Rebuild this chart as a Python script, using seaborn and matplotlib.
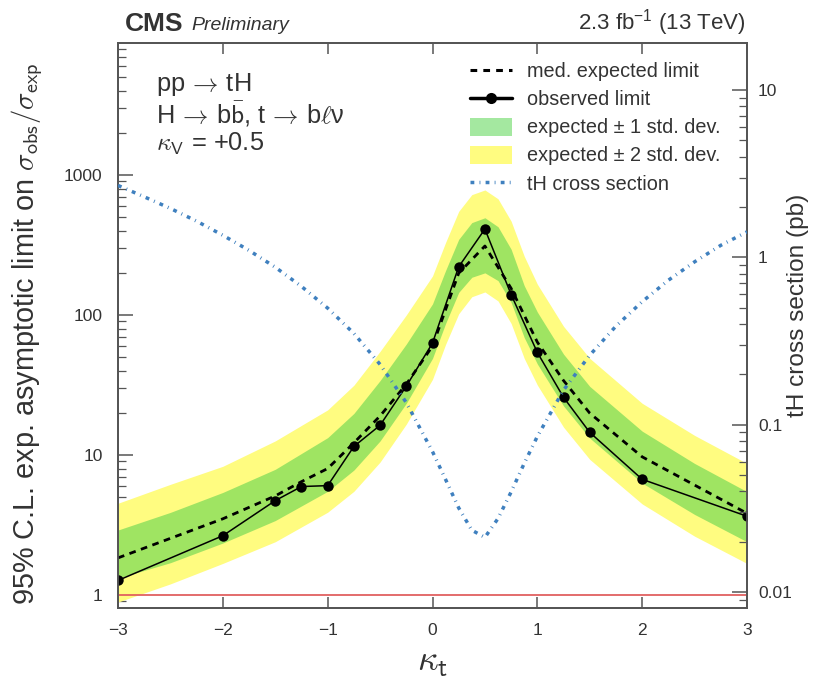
import numpy as np
import pandas as pd
import matplotlib
matplotlib.use("Agg")
import matplotlib.pyplot as plt
from matplotlib.lines import Line2D
from matplotlib.patches import Patch
from matplotlib.ticker import LogLocator, NullFormatter, FixedLocator, FixedFormatter
import seaborn as sns

# ---------------- data ----------------
kt = [-3, -2, -1.5, -1.25, -1, -0.75, -0.5, -0.25, 0, 0.25, 0.5, 0.75, 1, 1.25, 1.5, 2, 3]
observed = [1.27, 2.65, 4.72, 5.95, 6.04, 11.5, 16.3, 31, 63, 221, 411, 140, 54, 25.8, 14.5, 6.7, 3.65]
expected = [1.84, 3.5, 5.1, 6.45, 8.0, 12.2, 19.0, 32.0, 60.0, 199, 311, 155, 64, 34, 19.9, 9.7, 3.83]

kt_band = [-3, -2.5, -2, -1.5, -1, -0.75, -0.5, -0.25, 0, 0.125, 0.25, 0.375, 0.5,
           0.625, 0.75, 0.875, 1, 1.25, 1.5, 2, 2.5, 3]
band2_up = [4.52, 6.17, 8.3, 12.6, 21.0, 31.5, 55, 100, 190, 330, 550, 724, 782,
            676, 468, 263, 166, 83, 49, 23.4, 13.8, 8.7]
band1_up = [2.91, 3.89, 5.4, 7.9, 13.3, 19.8, 34, 62, 120, 208, 347, 457, 495,
            427, 295, 162, 105, 52.5, 30.9, 14.8, 8.7, 5.47]
band1_dn = [1.32, 1.70, 2.35, 3.4, 5.5, 7.8, 12.6, 23.4, 49, 87, 145, 186, 200,
            176, 123, 69, 44.7, 22.4, 13.2, 6.3, 3.76, 2.40]
band2_dn = [0.89, 1.20, 1.68, 2.4, 3.9, 5.5, 8.9, 16.6, 34.7, 61.7, 102, 135, 146,
            126, 87, 49, 31.6, 15.8, 9.3, 4.47, 2.63, 1.68]

kt_xsec = [-3, -2.75, -2.5, -2.25, -2, -1.75, -1.5, -1.25, -1, -0.75, -0.5, -0.25, 0,
           0.125, 0.25, 0.375, 0.5, 0.625, 0.75, 0.875, 1, 1.25, 1.5, 1.75, 2, 2.25,
           2.5, 2.75, 3]
xsec_pb = [2.69, 2.30, 1.96, 1.645, 1.355, 1.10, 0.873, 0.670, 0.497, 0.351, 0.229,
           0.1355, 0.069, 0.047, 0.0318, 0.0234, 0.0212, 0.0275, 0.0396, 0.0587,
           0.085, 0.161, 0.26, 0.388, 0.543, 0.73, 0.94, 1.18, 1.42]

x_ticks = [-3, -2, -1, 0, 1, 2, 3]
x_labels = ["\u22123", "\u22122", "\u22121", "0", "1", "2", "3"]
left_ticks = [1, 10, 100, 1000]
left_labels = ["1", "10", "100", "1000"]
right_ticks = [0.01, 0.1, 1, 10]
right_labels = ["0.01", "0.1", "1", "10"]

# ---------------- style ----------------
sns.set_style("ticks")
FONT = "Liberation Sans"
plt.rcParams["font.family"] = [FONT, "DejaVu Sans"]
plt.rcParams["mathtext.fontset"] = "custom"
plt.rcParams["mathtext.rm"] = FONT
plt.rcParams["mathtext.it"] = FONT + ":italic"
plt.rcParams["mathtext.bf"] = FONT + ":bold"
plt.rcParams["mathtext.sf"] = FONT
TXT = "#333333"
SPINE = "#555555"

GREEN = "#9fe462"
YELLOW = "#fffc80"
BLUE = "#3f80bf"
XS_STYLE = (0, (1.1, 1.5, 0.25, 1.5))

fig = plt.figure(figsize=(8.23, 6.89), dpi=100)
L, R, T, B = 118 / 823, 747 / 823, 1 - 43 / 689, 1 - 608 / 689
ax = fig.add_axes([L, B, R - L, T - B])

df_obs = pd.DataFrame({"kt": kt, "obs": observed, "exp": expected})
df_band = pd.DataFrame({"kt": kt_band, "u2": band2_up, "u1": band1_up,
                        "d1": band1_dn, "d2": band2_dn})
df_x = pd.DataFrame({"kt": kt_xsec, "xs": xsec_pb})

ax.set_yscale("log")
ax.fill_between(df_band["kt"], df_band["d2"], df_band["u2"], color=YELLOW, lw=0, zorder=1)
ax.fill_between(df_band["kt"], df_band["d1"], df_band["u1"], color=GREEN, lw=0, zorder=2)
ax.axhline(1.0, color="#e06060", lw=1.3, zorder=3)

sns.lineplot(data=df_obs, x="kt", y="exp", ax=ax, color="black", lw=2.0,
             zorder=4, linestyle=(0, (2.4, 2.0)))
sns.lineplot(data=df_obs, x="kt", y="obs", ax=ax, color="black", lw=1.1,
             marker="o", markersize=7.5, markeredgewidth=0, zorder=5)

ax.set_xlim(-3, 3)
ax.set_ylim(0.807, 8770)
ax.set_xlabel(r"$\kappa_{\mathsf{t}}$", fontsize=26, color=TXT, math_fontfamily="cm")
ax.xaxis.label.set_va("center")
ax.xaxis.set_label_coords(0.5, -0.094)
ax.set_ylabel(r"95% C.L. exp. asymptotic limit on $\sigma_{\mathsf{obs}}/\sigma_{\mathsf{exp}}$",
              fontsize=20.8, color=TXT, math_fontfamily="cm")
ax.yaxis.label.set_va("center")
ax.yaxis.set_label_coords(-0.144, 0.485)
ax.xaxis.set_major_locator(FixedLocator(x_ticks))
ax.xaxis.set_major_formatter(FixedFormatter(x_labels))
ax.yaxis.set_major_locator(FixedLocator(left_ticks))
ax.yaxis.set_major_formatter(FixedFormatter(left_labels))
ax.yaxis.set_minor_locator(LogLocator(base=10, subs=np.arange(2, 10), numticks=20))
ax.yaxis.set_minor_formatter(NullFormatter())
ax.tick_params(axis="x", which="major", direction="in", top=True, bottom=True,
               length=8, width=1.1, color=SPINE, labelsize=12.5, labelcolor=TXT, pad=11)
ax.tick_params(axis="y", which="major", direction="in", left=True, right=False,
               length=11, width=1.1, color=SPINE, labelsize=12.5, labelcolor=TXT, pad=11)
ax.tick_params(axis="y", which="minor", direction="in", left=True, right=False,
               length=6, width=0.9, color=SPINE)

ax2 = ax.twinx()
ax2.set_yscale("log")
sns.lineplot(data=df_x, x="kt", y="xs", ax=ax2, color=BLUE, lw=2.5,
             linestyle=XS_STYLE, zorder=6)
ax2.set_ylim(0.00802, 19.1)
ax2.set_xlim(-3, 3)
ax2.set_ylabel("tH cross section (pb)", fontsize=17.6, color=TXT)
ax2.yaxis.label.set_va("center")
ax2.yaxis.set_label_coords(1.081, 0.536)
ax2.yaxis.set_major_locator(FixedLocator(right_ticks))
ax2.yaxis.set_major_formatter(FixedFormatter(right_labels))
ax2.yaxis.set_minor_locator(LogLocator(base=10, subs=np.arange(2, 10), numticks=20))
ax2.yaxis.set_minor_formatter(NullFormatter())
ax2.tick_params(axis="y", which="major", direction="in", length=11, width=1.1,
                color=SPINE, labelsize=12.5, labelcolor=TXT, pad=8)
ax2.tick_params(axis="y", which="minor", direction="in", length=6, width=0.9, color=SPINE)

for a in (ax, ax2):
    for s in a.spines.values():
        s.set_color(SPINE)
        s.set_linewidth(1.3)

handles = [
    Line2D([], [], color="black", lw=2.2, linestyle=(0, (2.2, 2.0))),
    Line2D([], [], color="black", lw=2.5, marker="o", markersize=8, markeredgewidth=0),
    Patch(facecolor="#a4e8a0", edgecolor="none"),
    Patch(facecolor=YELLOW, edgecolor="none"),
    Line2D([], [], color=BLUE, lw=2.5, linestyle=XS_STYLE),
]
labels = ["med. expected limit", "observed limit",
          "expected \u00b1 1 std. dev.", "expected \u00b1 2 std. dev.",
          "tH cross section"]
leg = ax2.legend(handles, labels, loc="upper left", bbox_to_anchor=(0.541, 0.988),
                 frameon=False, fontsize=14.3, handlelength=2.1, handleheight=1.0,
                 labelspacing=0.42, handletextpad=0.75, borderaxespad=0.2)
for t in leg.get_texts():
    t.set_color(TXT)

# header texts
fig.text(125 / 823, 1 - 24 / 689, "CMS", fontsize=19, fontweight="bold", color=TXT,
         va="center", ha="left")
fig.text(191 / 823, 1 - 25 / 689, "Preliminary", fontsize=14, fontstyle="italic",
         color=TXT, va="center", ha="left")
fig.text(746 / 823, 1 - 23 / 689, r"2.3 fb$^{-1}$ (13 TeV)", fontsize=16, color=TXT,
         va="center", ha="right")

# process text
fig.text(156 / 823, 1 - 84 / 689, r"pp$\,\rightarrow\,$tH", fontsize=18.3, color=TXT,
         va="center", ha="left", math_fontfamily="cm")
fig.text(156 / 823, 1 - 114 / 689,
         r"H$\,\rightarrow\,$b$\bar{\mathsf{b}}$, t$\,\rightarrow\,$b$\ell$" + "\u03bd",
         fontsize=18.3, color=TXT, va="center", ha="left", math_fontfamily="cm")
fig.text(156 / 823, 1 - 144 / 689, r"$\kappa_{\mathsf{V}}$ = +0.5", fontsize=18.3, color=TXT,
         va="center", ha="left", math_fontfamily="cm")

fig.savefig("out.png", dpi=100)
